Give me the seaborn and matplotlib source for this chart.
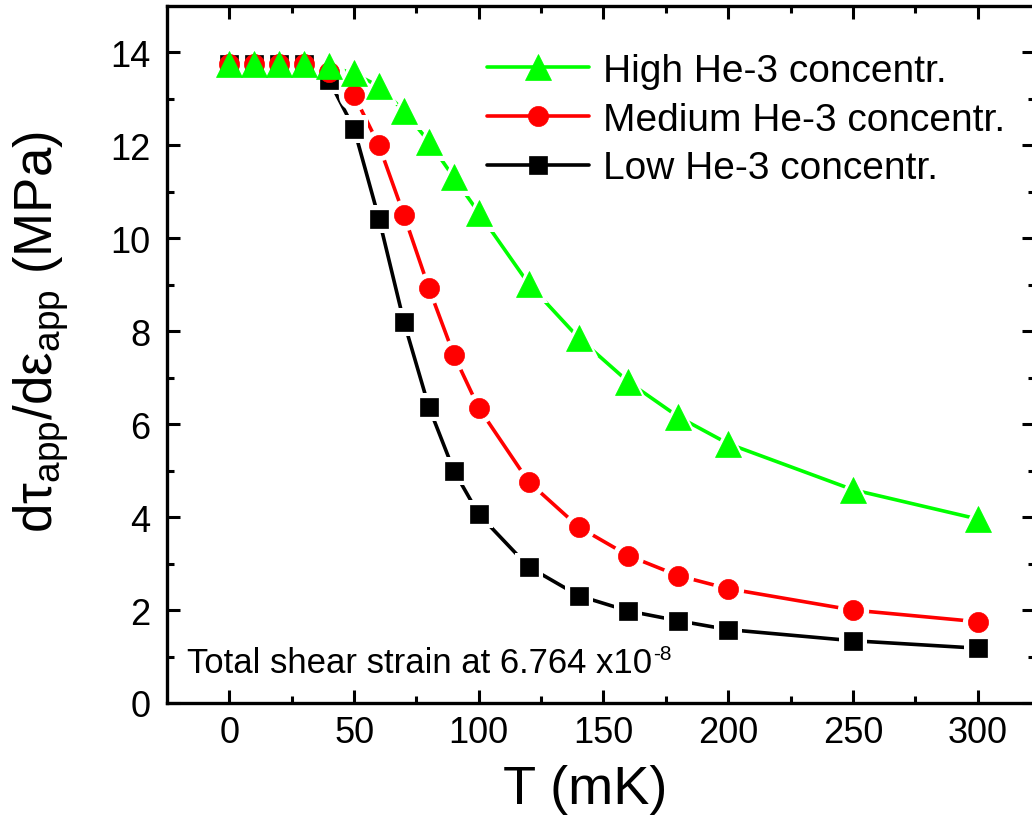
import matplotlib
matplotlib.use("Agg")
import matplotlib.pyplot as plt
import seaborn as sns
import numpy as np
import pandas as pd

# ---- data ----
T_mK = [0, 10, 20, 30, 40, 50, 60, 70, 80, 90, 100, 120, 140, 160, 180, 200, 250, 300]
high_he3 = [13.75, 13.75, 13.75, 13.75, 13.70, 13.55, 13.27, 12.74, 12.08, 11.31, 10.55,
            9.02, 7.86, 6.91, 6.16, 5.58, 4.59, 3.96]
medium_he3 = [13.75, 13.75, 13.75, 13.75, 13.59, 13.08, 12.00, 10.50, 8.93, 7.49, 6.35,
              4.76, 3.79, 3.17, 2.74, 2.46, 2.00, 1.75]
low_he3 = [13.75, 13.75, 13.75, 13.75, 13.40, 12.36, 10.42, 8.20, 6.37, 5.00, 4.06,
           2.93, 2.31, 1.98, 1.77, 1.58, 1.34, 1.18]
series_names = ["High He-3 concentr.", "Medium He-3 concentr.", "Low He-3 concentr."]
x_ticks = [0, 50, 100, 150, 200, 250, 300]
y_ticks = [0, 2, 4, 6, 8, 10, 12, 14]

sns.set_style("ticks")
plt.rcParams["font.family"] = ["Liberation Sans", "DejaVu Sans"]
plt.rcParams["mathtext.fontset"] = "custom"
plt.rcParams["mathtext.rm"] = "Liberation Sans"
plt.rcParams["mathtext.it"] = "Liberation Sans"
plt.rcParams["mathtext.default"] = "rm"
for key in ["text.color", "axes.labelcolor", "xtick.color", "ytick.color", "axes.edgecolor"]:
    plt.rcParams[key] = "black"

W, H = 1032, 829
fig = plt.figure(figsize=(W / 100, H / 100), dpi=100)
ax = fig.add_axes([167 / W, (H - 704) / H, (1035 - 167) / W, (704 - 7) / H])

styles = [
    (high_he3, "#00ff00", "^", 19),
    (medium_he3, "#ff0000", "o", 14.5),
    (low_he3, "#000000", "s", 12.5),
]
handles = []
for i, (vals, col, mk, ms) in enumerate(styles):
    df = pd.DataFrame({"T": T_mK, "v": vals})
    z = 3 - i
    # line
    sns.lineplot(data=df, x="T", y="v", color=col, lw=2.6, ax=ax, zorder=2 + 0.1 * z,
                 sort=False, estimator=None)
    line = ax.lines[-1]
    # white halo to create gaps between line segments and markers
    sns.lineplot(data=df, x="T", y="v", color="white", lw=0, marker=mk, ms=ms + 8,
                 mec="white", mew=0, ax=ax, zorder=3, sort=False, estimator=None)
    # coloured markers
    sns.lineplot(data=df, x="T", y="v", color=col, lw=0, marker=mk, ms=ms,
                 mec=col, mew=0.5, ax=ax, zorder=4 + 0.1 * z, sort=False, estimator=None)
    mark = ax.lines[-1]
    handles.append((line, mark))

ax.set_xlim(-25, 323)
ax.set_ylim(0, 15)
ax.set_xticks(x_ticks)
ax.set_yticks(y_ticks)
ax.set_xticks(np.arange(25, 325, 50), minor=True)
ax.set_yticks(np.arange(1, 15, 2), minor=True)
ax.tick_params(which="both", direction="in", top=True, right=True, width=2.2,
               colors="black", labelsize=26)
ax.tick_params(which="major", length=9.5)
ax.tick_params(which="minor", length=5)
ax.tick_params(axis="x", which="major", pad=9)
ax.tick_params(axis="y", which="major", pad=12)
for s in ax.spines.values():
    s.set_linewidth(2.4)
    s.set_color("black")

ax.set_xlabel("T (mK)", fontsize=39)
ax.set_ylabel(r"d$\tau_{\rm app}$/d$\varepsilon_{\rm app}$ (MPa)", fontsize=38)
ax.xaxis.set_label_coords((585 - 167) / 868, (704 - 765) / 697)
ax.yaxis.set_label_coords((71 - 167) / 868, (704 - 332) / 697)

leg = ax.legend(handles, series_names, loc="upper left",
                bbox_to_anchor=(487 / W, (H - 54) / H), bbox_transform=fig.transFigure,
                frameon=False, fontsize=28, handlelength=2.62, handletextpad=0.36,
                labelspacing=0.325, borderpad=0, borderaxespad=0)

note = fig.text(187 / W, (H - 673) / H, "Total shear strain at 6.764 x10",
                fontsize=25, va="baseline", ha="left")
ax.annotate("-8", xy=(1, 1), xycoords=note, xytext=(1, 1.5), textcoords="offset points",
            fontsize=15, va="top", ha="left")

fig.savefig("out.png", dpi=100)
